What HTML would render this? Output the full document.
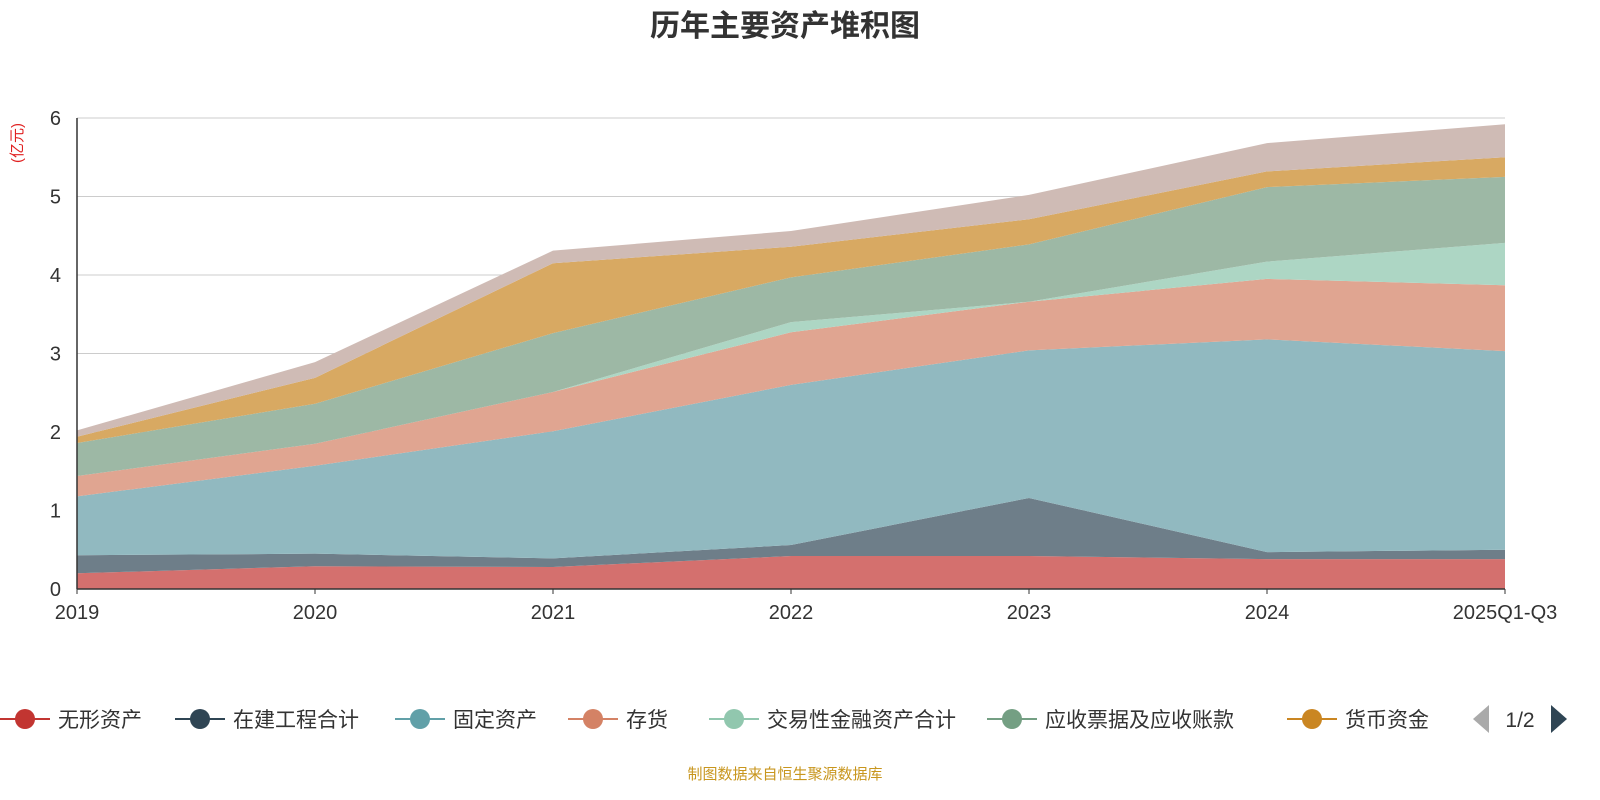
<!DOCTYPE html>
<html><head><meta charset="utf-8"><style>
body{margin:0;background:#fff;}
svg{display:block;font-family:"Liberation Sans","Noto Sans CJK SC",sans-serif;}
</style></head><body>
<svg id="chart" width="1600" height="800">
<text x="785" y="36" text-anchor="middle" font-size="30" font-weight="bold" fill="#333">历年主要资产堆积图</text>
<text transform="translate(22,143) rotate(-90)" text-anchor="middle" font-size="15" fill="#e02020">(亿元)</text>
<g id="grid"></g><g id="areas"></g><g id="axes"></g><g id="legend"></g>
<text x="785" y="779" text-anchor="middle" font-size="15" fill="#c8961e">制图数据来自恒生聚源数据库</text>
</svg>
<script>
const categories=["2019","2020","2021","2022","2023","2024","2025Q1-Q3"];
const yTicks=[0,1,2,3,4,5,6];
const seriesNames=["无形资产","在建工程合计","固定资产","存货","交易性金融资产合计","应收票据及应收账款","货币资金","其他"];
const s0=[0.2,0.29,0.28,0.42,0.42,0.38,0.38];
const s1=[0.23,0.16,0.11,0.14,0.74,0.09,0.12];
const s2=[0.75,1.12,1.62,2.04,1.88,2.71,2.53];
const s3=[0.26,0.28,0.5,0.67,0.62,0.77,0.84];
const s4=[0,0,0,0.13,0,0.22,0.54];
const s5=[0.42,0.51,0.75,0.57,0.73,0.95,0.84];
const s6=[0.08,0.33,0.89,0.39,0.32,0.2,0.25];
const s7=[0.08,0.2,0.16,0.2,0.31,0.36,0.42];
const series=[s0,s1,s2,s3,s4,s5,s6,s7];
const fills=["#d4706e","#6e7e89","#91b9c0","#e0a591","#add6c4","#9db8a5","#d8a962","#cfbbb5"];
const legendColors=["#c23531","#2f4554","#61a0a8","#d48265","#91c7ae","#749f83","#ca8622"];
const NS="http://www.w3.org/2000/svg";
const x0=77,x1=1505,yBase=589,yTop=118;
const xs=i=>x0+(x1-x0)*i/(categories.length-1);
const ys=v=>yBase-(yBase-yTop)*v/6;
function mk(tag,attrs,parent){const e=document.createElementNS(NS,tag);for(const k in attrs)e.setAttribute(k,attrs[k]);parent.appendChild(e);return e;}
const grid=document.getElementById('grid'),axes=document.getElementById('axes'),areas=document.getElementById('areas');
yTicks.forEach(t=>{
  const l=mk('line',{x1:x0,x2:x1,y1:ys(t),y2:ys(t),stroke:'#ccc','stroke-width':1},grid);
  
  
  const tx=mk('text',{x:x0-16,y:ys(t)+7,'text-anchor':'end','font-size':20,fill:'#333'},axes);
  tx.textContent=t;
  
  
});
let cum=categories.map(()=>0);
series.forEach((s,k)=>{
  const low=cum.slice();cum=cum.map((c,i)=>c+s[i]);
  let d='M'+categories.map((c,i)=>xs(i)+','+ys(cum[i])).join(' L');
  for(let i=categories.length-1;i>=0;i--)d+=' L'+xs(i)+','+ys(low[i]);
  const p=mk('path',{d:d+'Z',fill:fills[k]},areas);
  
  
});
const ax=mk('line',{x1:x0,x2:x1,y1:yBase,y2:yBase,stroke:'#333','stroke-width':1.5},axes);


const ay=mk('line',{x1:x0,x2:x0,y1:yTop,y2:yBase,stroke:'#333','stroke-width':1.5},axes);


categories.forEach((c,i)=>{
  const tk=mk('line',{x1:xs(i),x2:xs(i),y1:yBase,y2:yBase+5,stroke:'#333'},axes);
  
  
  const t=mk('text',{x:xs(i),y:yBase+30,'text-anchor':'middle','font-size':20,fill:'#333'},axes);
  t.textContent=c;
  
  
});
const lg=document.getElementById('legend');
const lx=[0,175,395,568,709,987,1287];
legendColors.forEach((col,k)=>{
  const g=mk('g',{},lg);
  
  
  const x=lx[k];
  mk('line',{x1:x,x2:x+50,y1:719,y2:719,stroke:col,'stroke-width':2},g);
  mk('circle',{cx:x+25,cy:719,r:10,fill:col},g);
  const t=mk('text',{x:x+58,y:727,'font-size':21,fill:'#333'},g);
  t.textContent=seriesNames[k];
});
const pp=mk('path',{d:'M1473,719 L1489,705 L1489,733Z',fill:'#aaa'},lg);


const pt=mk('text',{x:1520,y:727,'text-anchor':'middle','font-size':21,fill:'#333'},lg);
pt.textContent='1/2';


const pn=mk('path',{d:'M1567,719 L1551,705 L1551,733Z',fill:'#2f4554'},lg);


</script>
</body></html>
